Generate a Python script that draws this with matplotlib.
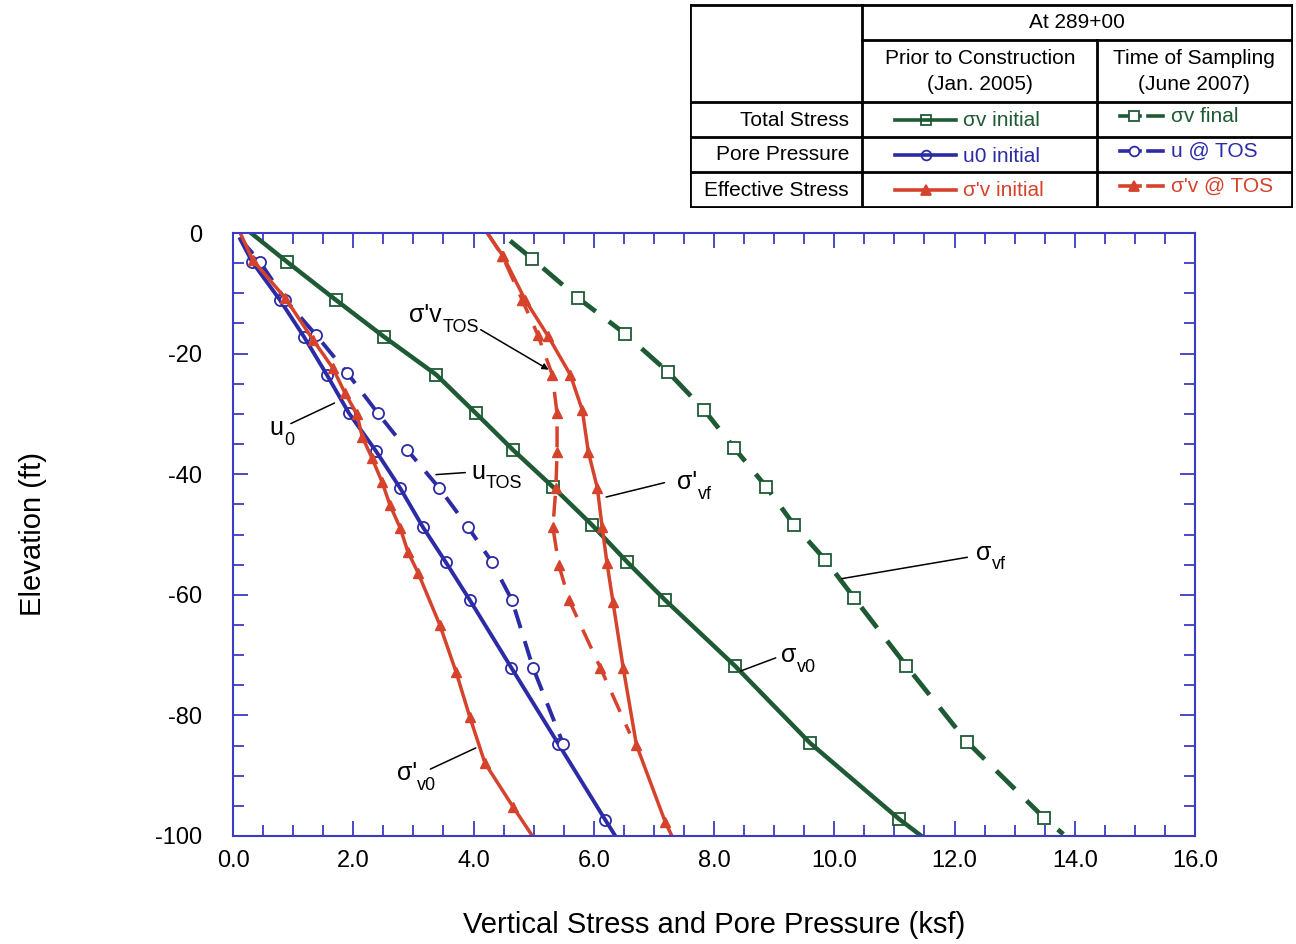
import matplotlib
matplotlib.use("Agg")
import matplotlib.pyplot as plt
from matplotlib.lines import Line2D

plt.rcParams['font.family'] = ['Liberation Sans', 'DejaVu Sans']
plt.rcParams['axes.unicode_minus'] = False

# Data (ksf vs elevation ft)
sv0_x = [0.30, 0.90, 1.71, 2.51, 3.38, 4.04, 4.66, 5.32, 5.97, 6.56, 7.19, 8.35, 9.60, 11.08, 11.45]
sv0_y = [0, -4.8, -11.1, -17.2, -23.5, -29.9, -36.0, -42.1, -48.4, -54.6, -60.9, -71.8, -84.6, -97.2, -100]

svf_x = [4.61, 4.98, 5.74, 6.52, 7.24, 7.84, 8.34, 8.87, 9.33, 9.85, 10.33, 11.20, 12.21, 13.49, 13.81]
svf_y = [-1.3, -4.3, -10.8, -16.7, -23.1, -29.4, -35.7, -42.1, -48.4, -54.2, -60.5, -71.8, -84.4, -97.0, -99.7]

u0_x = [0.12, 0.32, 0.78, 1.18, 1.56, 1.93, 2.38, 2.78, 3.16, 3.54, 3.94, 4.63, 5.41, 6.19, 6.36]
u0_y = [-1.0, -4.8, -11.1, -17.2, -23.5, -29.9, -36.2, -42.3, -48.8, -54.6, -60.9, -72.1, -84.7, -97.3, -100]

utos_x = [0.12, 0.45, 0.87, 1.38, 1.90, 2.41, 2.90, 3.43, 3.91, 4.31, 4.64, 4.99, 5.49]
utos_y = [-1.0, -4.8, -11.1, -16.9, -23.2, -29.9, -36.0, -42.3, -48.8, -54.6, -60.9, -72.1, -84.7]

se0_x = [0.12, 0.33, 0.87, 1.33, 1.66, 1.86, 2.06, 2.15, 2.31, 2.48, 2.61, 2.78, 2.91, 3.08,
         3.44, 3.71, 3.94, 4.19, 4.66, 4.98]
se0_y = [0, -4.5, -10.8, -17.7, -22.4, -26.5, -30.0, -33.8, -37.3, -41.3, -45.1, -48.9, -52.9, -56.4,
         -65.0, -72.8, -80.3, -87.9, -95.2, -100]

sef_x = [4.23, 4.49, 4.86, 5.24, 5.61, 5.81, 5.91, 6.06, 6.14, 6.22, 6.32, 6.49, 6.71, 7.19, 7.30]
sef_y = [0, -3.8, -11.1, -17.1, -23.5, -29.4, -36.3, -42.3, -48.8, -54.7, -61.2, -72.1, -84.9, -97.7, -100]

setos_x = [4.23, 4.48, 4.81, 5.07, 5.31, 5.39, 5.39, 5.37, 5.32, 5.42, 5.59, 6.11, 6.60]
setos_y = [0, -3.8, -11.1, -16.9, -23.5, -29.9, -36.3, -42.3, -48.8, -55.1, -60.9, -72.1, -83.0]

GREEN = '#1e5a34'
BLUE = '#2b2ba6'
RED = '#d6432c'
AXC = '#3b3bc4'

fig = plt.figure(figsize=(12.96, 9.44), dpi=100)
ax = fig.add_axes([233 / 1296, 1 - 836 / 944, 962 / 1296, 603 / 944])

inner = lambda n: slice(1, n - 1)

ax.plot(sv0_x, sv0_y, color=GREEN, lw=3.2, marker='s', ms=8, mfc='none', mec=GREEN, mew=1.3,
        markevery=inner(len(sv0_x)))
ax.plot(svf_x, svf_y, color=GREEN, lw=3.4, ls=(0, (5.5, 3.5)), marker='s', ms=9, mfc='white', mec=GREEN,
        mew=1.3, markevery=inner(len(svf_x)))
ax.plot(u0_x, u0_y, color=BLUE, lw=2.8, marker='o', ms=8, mfc='none', mec=BLUE, mew=1.3,
        markevery=inner(len(u0_x)))
ax.plot(utos_x, utos_y, color=BLUE, lw=2.8, ls=(0, (5, 3.5)), marker='o', ms=8, mfc='white', mec=BLUE,
        mew=1.3, markevery=slice(1, None))
ax.plot(se0_x, se0_y, color=RED, lw=2.5, marker='^', ms=7, mfc=RED, mec=RED,
        markevery=inner(len(se0_x)))
ax.plot(sef_x, sef_y, color=RED, lw=2.5, marker='^', ms=7, mfc=RED, mec=RED,
        markevery=inner(len(sef_x)))
ax.plot(setos_x, setos_y, color=RED, lw=2.5, ls=(0, (6, 4)), marker='^', ms=7, mfc=RED, mec=RED,
        markevery=inner(len(setos_x)))

ax.set_xlim(0, 16)
ax.set_ylim(-100, 0)
xt = [0, 2, 4, 6, 8, 10, 12, 14, 16]
ax.set_xticks(xt)
ax.set_xticklabels(['%.1f' % v for v in xt])
ax.set_xticks([i * 0.5 for i in range(33)], minor=True)
ax.set_yticks([0, -20, -40, -60, -80, -100])
ax.set_yticks(list(range(0, -101, -5)), minor=True)
ax.tick_params(which='both', direction='in', top=True, right=True, color=AXC, width=1.3,
               labelsize=17, labelcolor='black')
ax.tick_params(which='major', length=11)
ax.tick_params(which='minor', length=8)
ax.tick_params(axis='x', pad=10)
ax.tick_params(axis='y', pad=22)
for s in ax.spines.values():
    s.set_color(AXC)
    s.set_linewidth(1.5)

ax.set_xlabel('Vertical Stress and Pore Pressure (ksf)', fontsize=21, labelpad=28)
ax.set_ylabel('Elevation (ft)', fontsize=21, labelpad=78)

# curve labels with leader lines
def label(main, sub, xt, yt, p0, p1, arrow=False):
    style = dict(arrowstyle='-|>', mutation_scale=9, lw=1.1, color='black') if arrow \
        else dict(arrowstyle='-', lw=1.1, color='black')
    ax.annotate('', xy=p1, xytext=p0, arrowprops=style)
    t = ax.text(xt, yt, main, fontsize=18, ha='left', va='center')
    ax.annotate(sub, xy=(1, 0), xycoords=t, xytext=(0.5, 0), textcoords='offset points',
                fontsize=13, ha='left', va='center')

label("σ'v", 'TOS', 2.93, -13.6, (4.08, -15.8), (5.29, -22.9), arrow=True)
label('u', '0', 0.60, -32.4, (0.92, -31.8), (1.73, -28.0))
label('u', 'TOS', 3.96, -39.6, (3.33, -40.1), (3.91, -39.7))
label("σ'", 'vf', 7.38, -41.3, (6.16, -43.9), (7.22, -41.3))
label('σ', 'vf', 12.35, -53.0, (10.08, -57.4), (12.26, -53.7))
label('σ', 'v0', 9.12, -70.0, (8.40, -72.8), (9.07, -70.3))
label("σ'", 'v0', 2.72, -89.6, (3.24, -89.1), (4.08, -85.2))

# legend table drawn in pixel coordinates
tx = fig.add_axes([690 / 1296, 1 - 208 / 944, 603 / 1296, 204 / 944])
tx.set_xlim(690, 1293)
tx.set_ylim(208, 4)
tx.axis('off')
lw_t = 2.0
for y0 in [5, 102, 137, 172, 207]:
    tx.plot([690, 1292], [y0, y0], color='black', lw=lw_t, solid_capstyle='projecting')
tx.plot([862, 1292], [40, 40], color='black', lw=lw_t)
for x0 in [690, 862, 1292]:
    tx.plot([x0, x0], [5, 207], color='black', lw=lw_t, solid_capstyle='projecting')
tx.plot([1097, 1097], [40, 207], color='black', lw=lw_t)

fs = 15
tx.text(1077, 22, 'At 289+00', fontsize=fs, ha='center', va='center')
tx.text(980, 58, 'Prior to Construction', fontsize=fs, ha='center', va='center')
tx.text(980, 84, '(Jan. 2005)', fontsize=fs, ha='center', va='center')
tx.text(1194, 58, 'Time of Sampling', fontsize=fs, ha='center', va='center')
tx.text(1194, 84, '(June 2007)', fontsize=fs, ha='center', va='center')
row_labels = ['Total Stress', 'Pore Pressure', 'Effective Stress']
row_y = [120, 155, 190]
for lab, yy in zip(row_labels, row_y):
    tx.text(849, yy, lab, fontsize=fs, ha='right', va='center')

leg = [(GREEN, 's', 'σv initial', 'σv final', 'none'),
       (BLUE, 'o', 'u0 initial', 'u @ TOS', 'none'),
       (RED, '^', "σ'v initial", "σ'v @ TOS", None)]
for (c, m, t1, t2, fc), yy in zip(leg, row_y):
    mfc = c if fc is None else 'none'
    tx.add_line(Line2D([895, 956], [yy, yy], color=c, lw=2.6))
    tx.add_line(Line2D([926], [yy], color=c, marker=m, ms=7, mfc=mfc, mec=c, mew=1.3))
    tx.text(963, yy + 1, t1, fontsize=fs, color=c, ha='left', va='center')
    y2 = yy - 4
    tx.add_line(Line2D([1120, 1140], [y2, y2], color=c, lw=2.6))
    tx.add_line(Line2D([1148, 1163], [y2, y2], color=c, lw=2.6))
    tx.add_line(Line2D([1134], [y2], color=c, marker=m, ms=7, mfc='white' if fc else c, mec=c, mew=1.3))
    tx.text(1171, y2, t2, fontsize=fs, color=c, ha='left', va='center')

fig.savefig('out.png', dpi=100)
